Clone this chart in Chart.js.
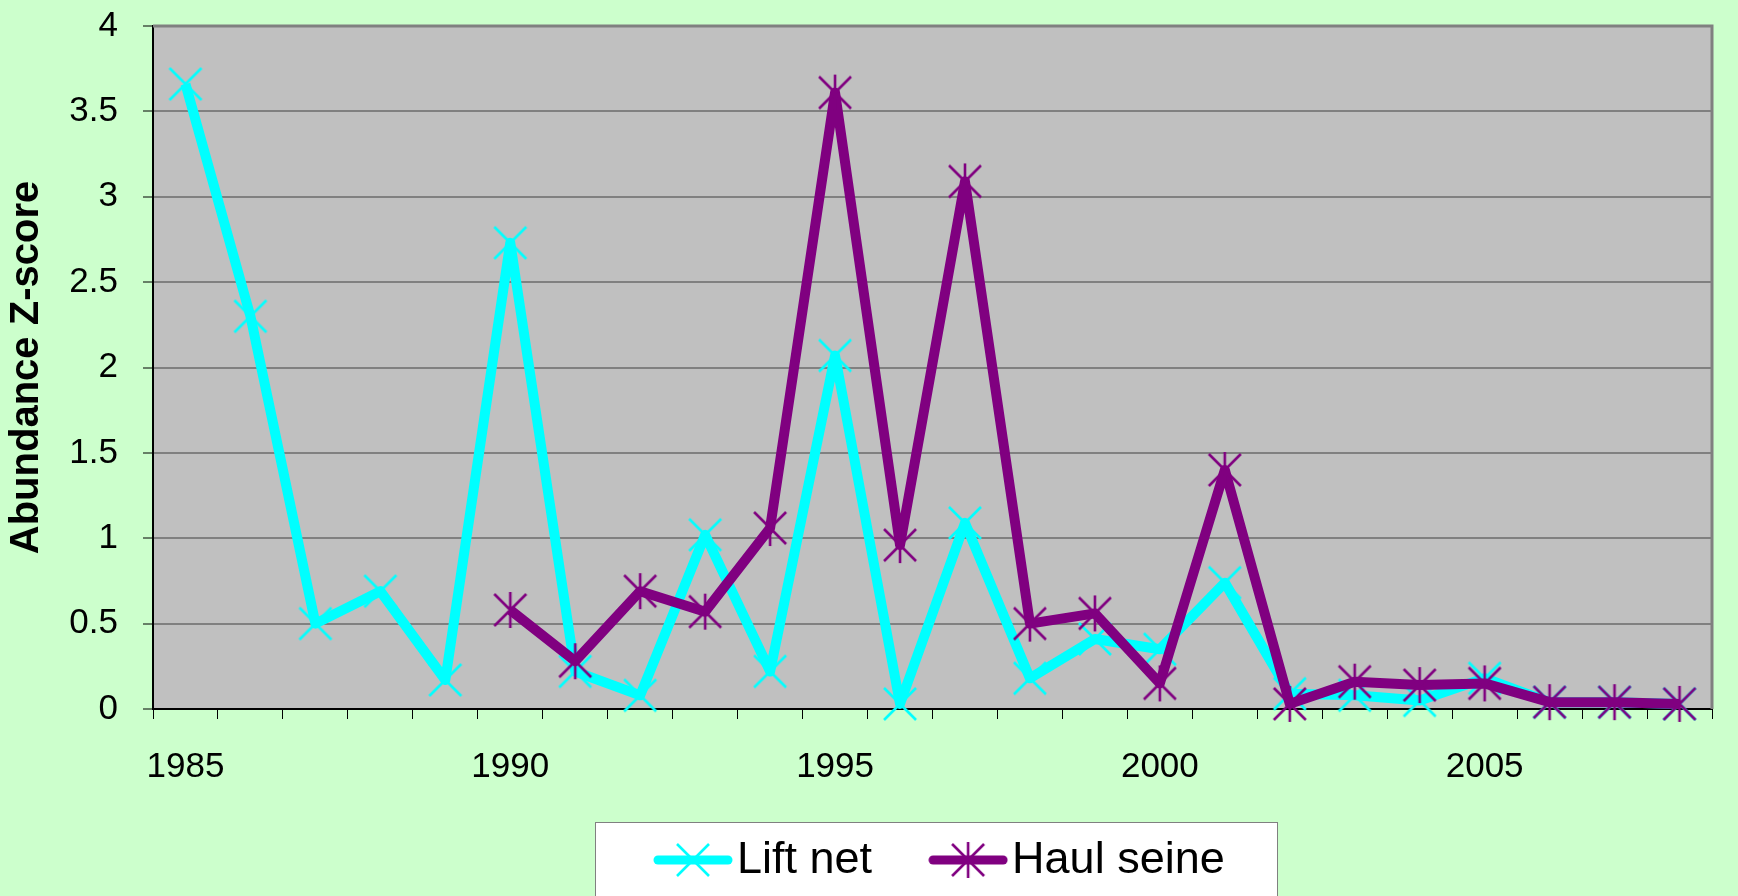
<!DOCTYPE html>
<html>
<head>
<meta charset="utf-8">
<title>Abundance Z-score</title>
<script src="https://cdn.jsdelivr.net/npm/chart.js@4.4.1/dist/chart.umd.min.js"></script>
<style>
  html, body { margin: 0; padding: 0; background: #ccffcc; }
  #wrap { width: 1738px; height: 896px; }
</style>
</head>
<body>
<div id="wrap"><canvas id="zChart" width="1738" height="896"></canvas></div>
<script>
const years = ['1985', '1986', '1987', '1988', '1989', '1990', '1991', '1992', '1993', '1994', '1995', '1996',
               '1997', '1998', '1999', '2000', '2001', '2002', '2003', '2004', '2005', '2006', '2007', '2008'];
const liftNet = [3.66, 2.30, 0.50, 0.69, 0.17, 2.73, 0.22, 0.08, 1.02, 0.22, 2.07, 0.03,
                 1.09, 0.18, 0.41, 0.35, 0.74, 0.09, 0.08, 0.05, 0.18, 0.04, 0.04, 0.03];
const haulSeine = [null, null, null, null, null, 0.58, 0.28, 0.69, 0.57, 1.06, 3.61, 0.96,
                   3.09, 0.50, 0.56, 0.15, 1.40, 0.03, 0.16, 0.14, 0.15, 0.04, 0.04, 0.03];
const yMin = 0;
const yMax = 4;
const yStep = 0.5;

const FONT = '"Liberation Sans", Arial, sans-serif';
const LIFT_COLOR = '#00ffff';
const HAUL_COLOR = '#800080';

// excel-like markers: x for lift net, x with a vertical bar for haul seine
function makeMarker(color, withBar) {
    const c = document.createElement('canvas');
    c.width = 36;
    c.height = 38;
    const g = c.getContext('2d');
    g.strokeStyle = color;
    g.lineWidth = 2.6;
    g.beginPath();
    g.moveTo(2, 3); g.lineTo(34, 35);
    g.moveTo(34, 3); g.lineTo(2, 35);
    if (withBar) {
        g.moveTo(18, 1); g.lineTo(18, 37);
    }
    g.stroke();
    return c;
}

function makeSample(color, marker) {
    const c = document.createElement('canvas');
    c.width = 80;
    c.height = 38;
    const g = c.getContext('2d');
    g.strokeStyle = color;
    g.lineWidth = 9;
    g.lineCap = 'round';
    g.beginPath();
    g.moveTo(5, 19); g.lineTo(75, 19);
    g.stroke();
    g.drawImage(marker, 40 - marker.width / 2, 19 - marker.height / 2);
    return c;
}

const liftMarker = makeMarker(LIFT_COLOR, false);
const haulMarker = makeMarker(HAUL_COLOR, true);

const chartFrame = {
    id: 'chartFrame',
    beforeDraw(chart) {
        const { ctx, chartArea: a } = chart;
        ctx.save();
        ctx.fillStyle = '#ccffcc';
        ctx.fillRect(0, 0, chart.width, chart.height);
        ctx.fillStyle = '#c0c0c0';
        ctx.fillRect(a.left, a.top, a.right - a.left, a.bottom - a.top);
        ctx.restore();
    },
    beforeDatasetsDraw(chart) {
        const { ctx, chartArea: a } = chart;
        ctx.save();
        ctx.strokeStyle = '#808080';
        ctx.lineWidth = 3;
        ctx.beginPath();
        ctx.moveTo(a.left, a.top);
        ctx.lineTo(a.right, a.top);
        ctx.lineTo(a.right, a.bottom);
        ctx.stroke();
        ctx.restore();
    },
    afterDraw(chart) {
        // boxed legend under the x axis, cut by the bottom edge like the original
        const { ctx, chartArea: a } = chart;
        const items = chart.data.datasets.map((ds) => ({ label: ds.label, sample: ds.legendSample }));
        const sampleW = 80, gapText = 4, gapItem = 56, padL = 58, padR = 52;
        ctx.save();
        ctx.font = '45px ' + FONT;
        let total = 0;
        items.forEach((it, i) => {
            it.w = ctx.measureText(it.label).width;
            total += sampleW + gapText + it.w + (i ? gapItem : 0);
        });
        const boxW = Math.round(total + padL + padR);
        const boxL = Math.round((a.left + a.right) / 2 + 3 - boxW / 2);
        const boxT = Math.round(chart.scales.x.bottom);
        ctx.fillStyle = '#ffffff';
        ctx.fillRect(boxL, boxT, boxW, chart.height - boxT + 5);
        ctx.strokeStyle = '#808080';
        ctx.lineWidth = 1;
        ctx.strokeRect(boxL + 0.5, boxT + 0.5, boxW, chart.height - boxT + 5);
        const cy = boxT + 38;
        let x = boxL + padL;
        ctx.fillStyle = '#000000';
        ctx.textBaseline = 'middle';
        ctx.textAlign = 'left';
        items.forEach((it) => {
            ctx.drawImage(it.sample, x, cy - it.sample.height / 2);
            x += sampleW + gapText;
            ctx.fillText(it.label, x, cy + 1);
            x += it.w + gapItem;
        });
        ctx.restore();
    }
};

new Chart(document.getElementById('zChart'), {
    type: 'line',
    data: {
        labels: years,
        datasets: [{
            label: 'Lift net',
            data: liftNet,
            borderColor: LIFT_COLOR,
            backgroundColor: LIFT_COLOR,
            borderWidth: 10,
            borderJoinStyle: 'round',
            pointStyle: liftMarker,
            pointRadius: 16,
            tension: 0,
            clip: false,
            order: 1,
            legendSample: makeSample(LIFT_COLOR, liftMarker)
        }, {
            label: 'Haul seine',
            data: haulSeine,
            borderColor: HAUL_COLOR,
            backgroundColor: HAUL_COLOR,
            borderWidth: 10,
            borderJoinStyle: 'round',
            pointStyle: haulMarker,
            pointRadius: 16,
            tension: 0,
            clip: false,
            order: 0,
            legendSample: makeSample(HAUL_COLOR, haulMarker)
        }]
    },
    options: {
        responsive: false,
        animation: false,
        events: [],
        layout: { padding: { top: 21, right: 4, bottom: 74, left: 0 } },
        plugins: {
            legend: { display: false },
            tooltip: { enabled: false }
        },
        scales: {
            x: {
                offset: true,
                afterFit(s) { s.height = 113; },
                grid: { offset: true, drawOnChartArea: false, tickLength: 10, color: '#000000', lineWidth: 1 },
                border: { color: '#000000', width: 2 },
                ticks: {
                    autoSkip: false,
                    maxRotation: 0,
                    color: '#000000',
                    padding: 27,
                    font: { size: 35, family: FONT },
                    callback: (v, i) => (Number(years[i]) % 5 === 0 ? years[i] : '')
                }
            },
            y: {
                min: yMin,
                max: yMax,
                afterFit(s) {
                    s.width = 153;
                    // the top label may overhang the plot, as in the original
                    s.paddingTop = 0;
                    s.paddingBottom = 0;
                },
                grid: { color: '#808080', lineWidth: 2, tickLength: 10, tickColor: '#000000', tickWidth: 1 },
                border: { color: '#000000', width: 2 },
                ticks: {
                    stepSize: yStep,
                    color: '#000000',
                    padding: 25,
                    font: { size: 35, family: FONT },
                    callback: (v) => String(v)
                },
                title: {
                    display: true,
                    text: 'Abundance Z-score',
                    color: '#000000',
                    font: { size: 40, weight: 'bold', family: FONT },
                    padding: { top: 3, bottom: 0 }
                }
            }
        }
    },
    plugins: [chartFrame]
});
</script>
</body>
</html>
